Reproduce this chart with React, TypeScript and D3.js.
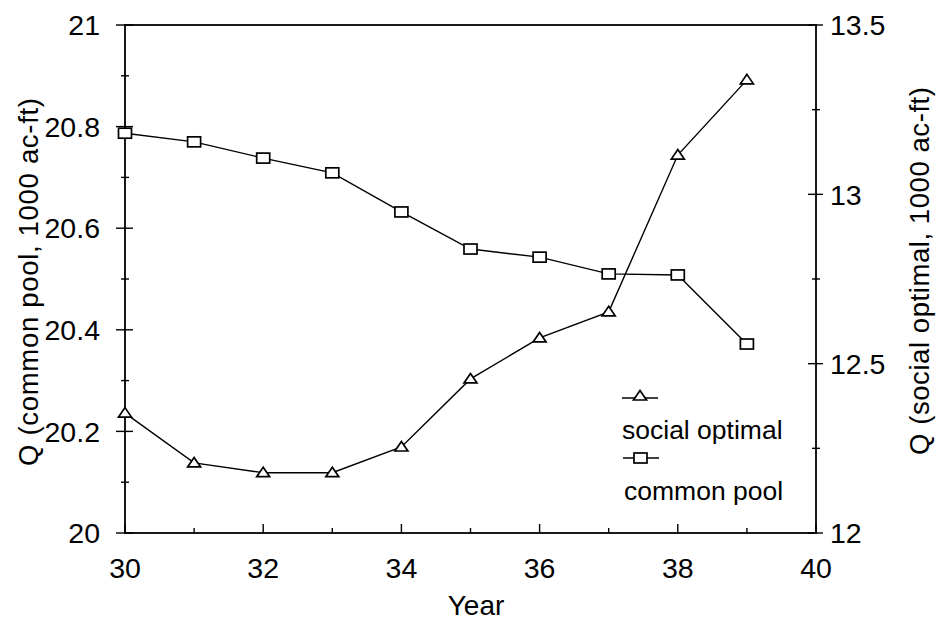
import React, { useEffect, useRef } from "react";
import * as d3 from "d3";

const years = [30, 31, 32, 33, 34, 35, 36, 37, 38, 39];
const commonPool = [20.787, 20.77, 20.738, 20.709, 20.632, 20.559, 20.543, 20.51, 20.508, 20.372];
const socialOptimal = [12.354, 12.207, 12.178, 12.178, 12.254, 12.455, 12.576, 12.653, 13.116, 13.338];
const xTickLabels = [30, 32, 34, 36, 38, 40];
const leftTickLabels = [20, 20.2, 20.4, 20.6, 20.8, 21];
const rightTickLabels = [12, 12.5, 13, 13.5];
const legendLabels = ["social optimal", "common pool"];

const W = 939, H = 622;
const M = { left: 125, right: 816, top: 25, bottom: 533 };
const FONT = "'Liberation Sans', Arial, Helvetica, sans-serif";

export default function App() {
  const ref = useRef<SVGSVGElement>(null);
  useEffect(() => {
    const svg = d3.select(ref.current);
    svg.selectAll("*").remove();
    const x = d3.scaleLinear().domain([30, 40]).range([M.left, M.right]);
    const yL = d3.scaleLinear().domain([20, 21]).range([M.bottom, M.top]);
    const yR = d3.scaleLinear().domain([12, 13.5]).range([M.bottom, M.top]);
    const g = svg.append("g");

    // frame
    g.append("rect").attr("x", M.left).attr("y", M.top)
      .attr("width", M.right - M.left).attr("height", M.bottom - M.top)
      .attr("fill", "none").attr("stroke", "#000").attr("stroke-width", 1.8);

    // left ticks
    d3.range(0, 11).forEach(i => {
      const v = 20 + i * 0.1;
      const major = i % 2 === 0;
      const y = yL(v);
      g.append("line").attr("x1", M.left - (major ? 9 : 4)).attr("x2", M.left + (major ? 8 : 4))
        .attr("y1", y).attr("y2", y).attr("stroke", "#000").attr("stroke-width", 1.4);
    });
    leftTickLabels.forEach(v => {
      g.append("text").attr("x", 100).attr("y", yL(v)).attr("dy", "0.36em")
        .attr("text-anchor", "end").attr("font-family", FONT).attr("font-size", 28.5)
        .text(d3.format("~g")(v));
    });
    // right ticks
    d3.range(0, 7).forEach(i => {
      const v = 12 + i * 0.25;
      const major = i % 2 === 0;
      const y = yR(v);
      g.append("line").attr("x1", M.right - (major ? 8 : 4)).attr("x2", M.right + (major ? 7 : 4))
        .attr("y1", y).attr("y2", y).attr("stroke", "#000").attr("stroke-width", 1.4);
    });
    rightTickLabels.forEach(v => {
      g.append("text").attr("x", M.right + 14).attr("y", yR(v)).attr("dy", "0.36em")
        .attr("text-anchor", "start").attr("font-family", FONT).attr("font-size", 28.5)
        .text(d3.format("~g")(v));
    });
    // bottom ticks
    d3.range(30, 41).forEach(v => {
      const major = v % 2 === 0;
      g.append("line").attr("x1", x(v)).attr("x2", x(v))
        .attr("y1", M.bottom).attr("y2", M.bottom - (major ? 9 : 5))
        .attr("stroke", "#000").attr("stroke-width", 1.4);
    });
    xTickLabels.forEach(v => {
      g.append("text").attr("x", x(v)).attr("y", 578)
        .attr("text-anchor", "middle").attr("font-family", FONT).attr("font-size", 28.5)
        .text(String(v));
    });

    // axis titles
    g.append("text").attr("x", 476).attr("y", 615).attr("text-anchor", "middle")
      .attr("font-family", FONT).attr("font-size", 28).text("Year");
    g.append("text").attr("transform", "translate(38,282) rotate(-90)")
      .attr("text-anchor", "middle").attr("font-family", FONT).attr("font-size", 27.5)
      .attr("textLength", 368).attr("lengthAdjust", "spacing")
      .text("Q (common pool, 1000 ac-ft)");
    g.append("text").attr("transform", "translate(929,271) rotate(-90)")
      .attr("text-anchor", "middle").attr("font-family", FONT).attr("font-size", 27.5)
      .attr("textLength", 368).attr("lengthAdjust", "spacing")
      .text("Q (social optimal, 1000 ac-ft)");

    const tri = (cx: number, cy: number) =>
      `M${cx},${cy - 5.5}L${cx + 6.5},${cy + 4}L${cx - 6.5},${cy + 4}Z`;

    // lines
    const lineL = d3.line<number>().x((_, i) => x(years[i])).y(d => yL(d));
    const lineR = d3.line<number>().x((_, i) => x(years[i])).y(d => yR(d));
    g.append("path").attr("d", lineL(commonPool)!).attr("fill", "none")
      .attr("stroke", "#000").attr("stroke-width", 1.4);
    g.append("path").attr("d", lineR(socialOptimal)!).attr("fill", "none")
      .attr("stroke", "#000").attr("stroke-width", 1.4);

    commonPool.forEach((v, i) => {
      g.append("rect").attr("x", x(years[i]) - 6.5).attr("y", yL(v) - 5)
        .attr("width", 13).attr("height", 10).attr("fill", "#fff")
        .attr("stroke", "#000").attr("stroke-width", 1.7);
    });
    socialOptimal.forEach((v, i) => {
      g.append("path").attr("d", tri(x(years[i]), yR(v))).attr("fill", "#fff")
        .attr("stroke", "#000").attr("stroke-width", 1.7);
    });

    // legend
    const lx = 622;
    g.append("line").attr("x1", lx).attr("x2", lx + 36).attr("y1", 398).attr("y2", 398)
      .attr("stroke", "#000").attr("stroke-width", 1.4);
    g.append("path").attr("d", tri(lx + 18, 396)).attr("fill", "#fff")
      .attr("stroke", "#000").attr("stroke-width", 1.7);
    g.append("text").attr("x", lx).attr("y", 439).attr("font-family", FONT)
      .attr("font-size", 26.5).text(legendLabels[0]);
    g.append("line").attr("x1", lx + 1).attr("x2", lx + 37).attr("y1", 458).attr("y2", 458)
      .attr("stroke", "#000").attr("stroke-width", 1.4);
    g.append("rect").attr("x", lx + 12).attr("y", 453).attr("width", 13).attr("height", 10)
      .attr("fill", "#fff").attr("stroke", "#000").attr("stroke-width", 1.7);
    g.append("text").attr("x", lx + 2).attr("y", 500).attr("font-family", FONT)
      .attr("font-size", 26.5).text(legendLabels[1]);
  }, []);
  return (
    <svg ref={ref} width={W} height={H}
      style={{ position: "absolute", left: 0, top: 0, background: "#fff" }} />
  );
}
